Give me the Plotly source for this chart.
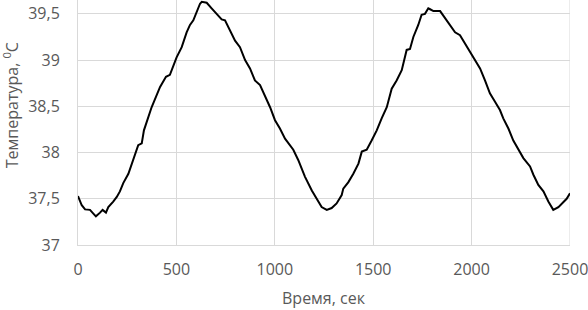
import plotly.graph_objects as go

time_s = [0, 19, 36, 61, 78, 91, 112, 125, 142, 154, 179, 197, 213, 230, 256, 281, 306, 324, 335,
          374, 417, 447, 467, 501, 527, 552, 569, 586, 603, 620, 629, 654, 679, 704, 730, 747, 772,
          798, 823, 849, 874, 899, 925, 950, 976, 1001, 1026, 1052, 1094, 1119, 1153, 1188, 1213,
          1238, 1264, 1289, 1314, 1340, 1348, 1374, 1399, 1425, 1442, 1467, 1492, 1518, 1543, 1569,
          1594, 1619, 1645, 1670, 1687, 1704, 1729, 1746, 1763, 1780, 1789, 1806, 1840, 1865, 1890,
          1916, 1941, 1966, 1992, 2017, 2043, 2068, 2093, 2119, 2144, 2161, 2187, 2212, 2238, 2263,
          2297, 2314, 2339, 2365, 2390, 2415, 2441, 2466, 2483, 2500]
temp_c = [37.53, 37.43, 37.385, 37.38, 37.34, 37.31, 37.35, 37.38, 37.35, 37.41, 37.47, 37.52, 37.58,
          37.67, 37.77, 37.92, 38.08, 38.10, 38.24, 38.49, 38.71, 38.82, 38.84, 39.03, 39.14, 39.30,
          39.38, 39.43, 39.52, 39.61, 39.63, 39.62, 39.56, 39.50, 39.44, 39.43, 39.32, 39.21, 39.14,
          39.00, 38.91, 38.78, 38.73, 38.62, 38.49, 38.35, 38.26, 38.15, 38.03, 37.92, 37.74, 37.59,
          37.50, 37.41, 37.38, 37.40, 37.45, 37.54, 37.61, 37.68, 37.77, 37.88, 38.01, 38.03, 38.13,
          38.24, 38.37, 38.49, 38.69, 38.78, 38.89, 39.11, 39.12, 39.25, 39.38, 39.49, 39.50, 39.56,
          39.55, 39.53, 39.53, 39.45, 39.38, 39.30, 39.27, 39.18, 39.09, 39.00, 38.91, 38.78, 38.64,
          38.55, 38.46, 38.37, 38.26, 38.13, 38.04, 37.94, 37.85, 37.76, 37.65, 37.58, 37.47, 37.38,
          37.41, 37.46, 37.50, 37.56]

x_ticks = [0, 500, 1000, 1500, 2000, 2500]
x_tick_labels = ["0", "500", "1000", "1500", "2000", "2500"]
y_ticks = [37, 37.5, 38, 38.5, 39, 39.5]
y_tick_labels = ["37", "37,5", "38", "38,5", "39", "39,5"]

x_title = "Время, сек"
y_title = "Температура, <sup>0</sup>C"

FONT = "Open Sans"
GRAY = "#595959"
GRID = "#d9d9d9"

fig = go.Figure()
fig.add_trace(go.Scatter(x=time_s, y=temp_c, mode="lines",
                         line=dict(color="#000000", width=2), showlegend=False))

fig.update_layout(
    width=588, height=310,
    margin=dict(l=78, r=18, t=0, b=65),
    paper_bgcolor="white", plot_bgcolor="white",
    font=dict(family=FONT, size=16, color=GRAY),
    xaxis=dict(range=[0, 2500], tickvals=x_ticks, ticktext=x_tick_labels,
               showgrid=True, gridcolor=GRID, gridwidth=1, zeroline=False,
               showline=True, linecolor=GRID, linewidth=1, mirror=False,
               ticks="", ticklabelstandoff=10, ticklabeloverflow="allow",
               tickfont=dict(family=FONT, size=16, color=GRAY)),
    yaxis=dict(range=[37, 39.65], tickvals=y_ticks, ticktext=y_tick_labels,
               showgrid=True, gridcolor=GRID, gridwidth=1, zeroline=False,
               showline=True, linecolor=GRID, linewidth=1,
               ticks="", ticklabelstandoff=14, ticklabeloverflow="allow",
               tickfont=dict(family=FONT, size=16, color=GRAY)),
    annotations=[
        dict(text=x_title, xref="paper", yref="paper", x=0.5, y=-0.216,
             xanchor="center", yanchor="middle", showarrow=False,
             font=dict(family=FONT, size=16, color=GRAY)),
        dict(text=y_title, xref="paper", yref="paper", x=-0.136, y=0.571,
             xanchor="center", yanchor="middle", showarrow=False, textangle=-90,
             font=dict(family=FONT, size=16, color=GRAY)),
    ],
)
fig.add_shape(type="line", xref="x", yref="paper", x0=2500, x1=2500, y0=0, y1=1,
              line=dict(color=GRID, width=1), layer="below")

fig.write_html("out.html", config={"displayModeBar": False},
               post_script="document.body.style.margin='0';document.body.style.overflow='hidden';")
